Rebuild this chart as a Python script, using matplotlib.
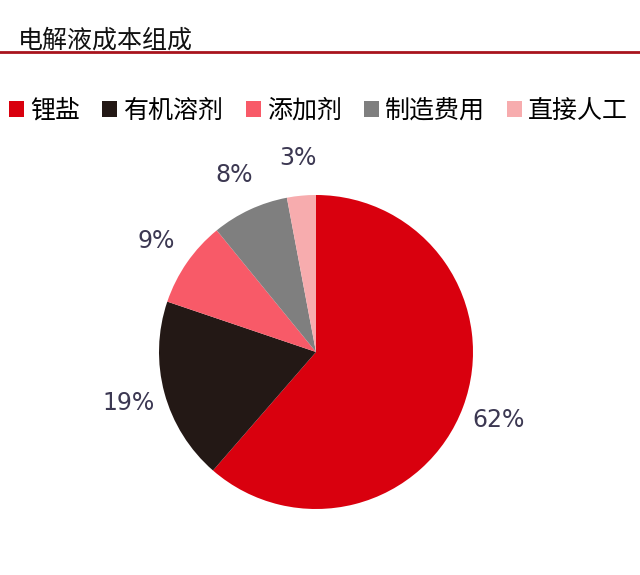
import matplotlib.pyplot as plt
from matplotlib.patches import Patch
from matplotlib.lines import Line2D

plt.rcParams['font.family'] = ['Noto Sans CJK SC', 'DejaVu Sans']

# data
categories = ["锂盐", "有机溶剂", "添加剂", "制造费用", "直接人工"]
shares = [62, 19, 9, 8, 3]
colors = ["#D9000E", "#231815", "#F85A68", "#7F7F7F", "#F7ACAE"]
TITLE = "电解液成本组成"

fig = plt.figure(figsize=(6.4, 5.75), dpi=100)

# title and red rule
fig.text(18 / 640, 1 - 41 / 575, TITLE, fontsize=18, color="#111111",
         ha="left", va="center")
fig.add_artist(Line2D([0, 1], [1 - 52 / 575, 1 - 52 / 575],
                      transform=fig.transFigure, color="#A8131D", linewidth=2))

# pie: centre (316, 352) px, radius ~157 px
L = 1.5
size = 2 * L * 157
ax = fig.add_axes([(316 - size / 2) / 640, (575 - 352 - size / 2) / 575,
                   size / 640, size / 575])
wedges, texts = ax.pie(
    shares, colors=colors, startangle=90, counterclock=False,
    labels=[f"{v}%" for v in shares], labeldistance=1.24,
    radius=1, wedgeprops=dict(linewidth=0),
)
for t in texts:
    t.set_family(["DejaVu Sans"])
    t.set_fontsize(17)
    t.set_color("#3C3852")
    t.set_ha("center")
    t.set_va("center")
ax.set_xlim(-L, L)
ax.set_ylim(-L, L)
ax.axis("off")

handles = [Patch(facecolor=c, edgecolor="none") for c in colors]
fig.legend(handles, categories, loc="center left",
           bbox_to_anchor=(9 / 640, 1 - 111 / 575), ncol=5, frameon=False,
           fontsize=18, handlelength=0.6, handleheight=0.6,
           handletextpad=0.25, columnspacing=0.88, borderaxespad=0,
           borderpad=0)

fig.savefig("out.png", dpi=100, facecolor="white")
